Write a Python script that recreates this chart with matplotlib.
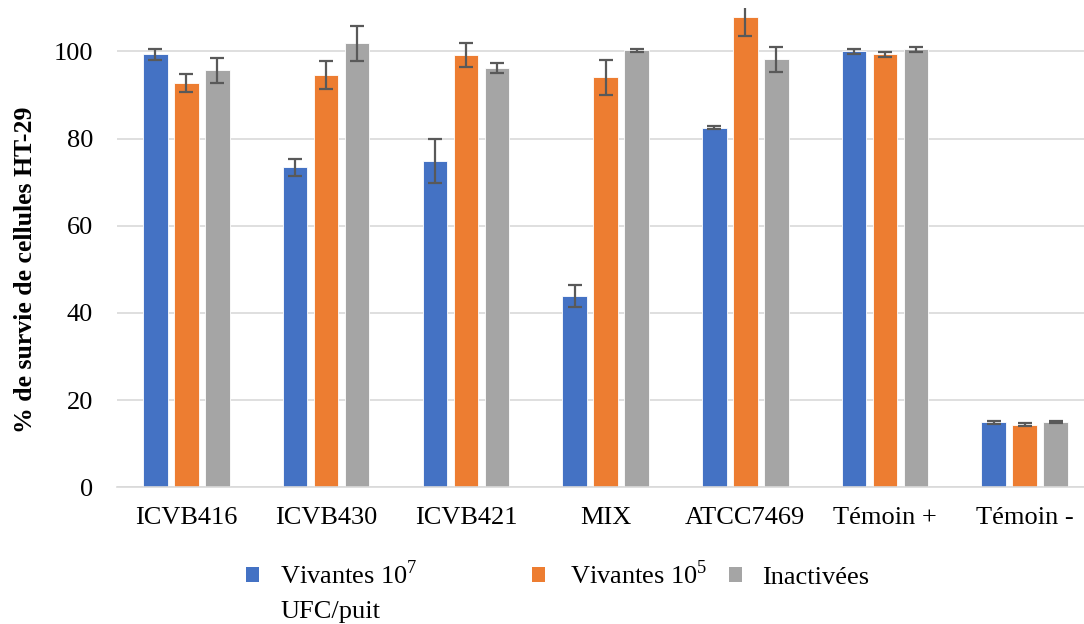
import numpy as np
import matplotlib.pyplot as plt
from matplotlib.patches import Patch

plt.rcParams['font.family'] = ['Liberation Serif', 'DejaVu Serif']
plt.rcParams['mathtext.fontset'] = 'custom'
plt.rcParams['mathtext.rm'] = 'Liberation Serif'

# Data
categories = ['ICVB416', 'ICVB430', 'ICVB421', 'MIX', 'ATCC7469', 'Témoin +', 'Témoin -']
vivantes_7 = [99.3, 73.4, 74.8, 43.8, 82.5, 100.0, 14.9]
vivantes_7_err = [1.2, 2.0, 5.0, 2.5, 0.3, 0.6, 0.3]
vivantes_5 = [92.7, 94.5, 99.1, 94.0, 107.8, 99.3, 14.4]
vivantes_5_err = [2.0, 3.2, 2.8, 4.1, 4.3, 0.6, 0.3]
inactivees = [95.6, 101.8, 96.2, 100.2, 98.2, 100.5, 15.0]
inactivees_err = [2.8, 4.0, 1.2, 0.4, 2.9, 0.6, 0.3]

series = [
    (vivantes_7, vivantes_7_err, '#4472C4', 'Vivantes 10$^{7}$'),
    (vivantes_5, vivantes_5_err, '#ED7D31', 'Vivantes 10$^{5}$'),
    (inactivees, inactivees_err, '#A5A5A5', 'Inactivées'),
]

W, H = 1084, 624
fig = plt.figure(figsize=(W / 100, H / 100), dpi=100)
ax = fig.add_axes([116.6 / W, 1 - 487.3 / H, 978 / W, 479.6 / H])

x = np.arange(len(categories))
step = 0.222
width = 0.176
for i, (vals, errs, color, label) in enumerate(series):
    pos = x + (i - 1) * step
    ax.bar(pos, vals, width, color=color, edgecolor='white', linewidth=0.6, zorder=2)
    ax.errorbar(pos, vals, yerr=errs, fmt='none', ecolor='#595959',
                elinewidth=1.6, capsize=4.7, capthick=1.6, zorder=3)

ax.set_xlim(-0.5, len(categories) - 0.5)
ax.set_ylim(0, 110)
ax.set_yticks([0, 20, 40, 60, 80, 100])
ax.set_xticks(x)
ax.set_xticklabels(categories, fontsize=19)
ax.tick_params(axis='y', labelsize=19, length=0, pad=17)
ax.tick_params(axis='x', length=0, pad=14)
ax.grid(axis='y', color='#D9D9D9', linewidth=1.2, zorder=0)
for side in ['top', 'right', 'left']:
    ax.spines[side].set_visible(False)
ax.spines['bottom'].set_color('#D9D9D9')
ax.spines['bottom'].set_linewidth(1.2)

ax.set_ylabel('% de survie de cellules HT-29', fontsize=18.5, fontweight='bold')
ax.yaxis.set_label_coords(-0.081, 0.453)

# Legend entries placed as in the original (uneven spacing)
legend_x = [246, 532, 729]
legend_y = [575, 575, 578]
legend_pad = [0.8, 0.95, 0.76]
for (vals, errs, color, label), lx, ly, tp in zip(series, legend_x, legend_y, legend_pad):
    fig.legend(handles=[Patch(facecolor=color, label=label)], loc='center left',
               bbox_to_anchor=(lx / W, 1 - ly / H), frameon=False, fontsize=19,
               handlelength=0.5, handleheight=0.5, handletextpad=tp,
               borderpad=0, borderaxespad=0)
fig.text(280 / W, 1 - 618 / H, 'UFC/puit', fontsize=19, va='baseline', ha='left')

fig.savefig('out.png', dpi=100)
